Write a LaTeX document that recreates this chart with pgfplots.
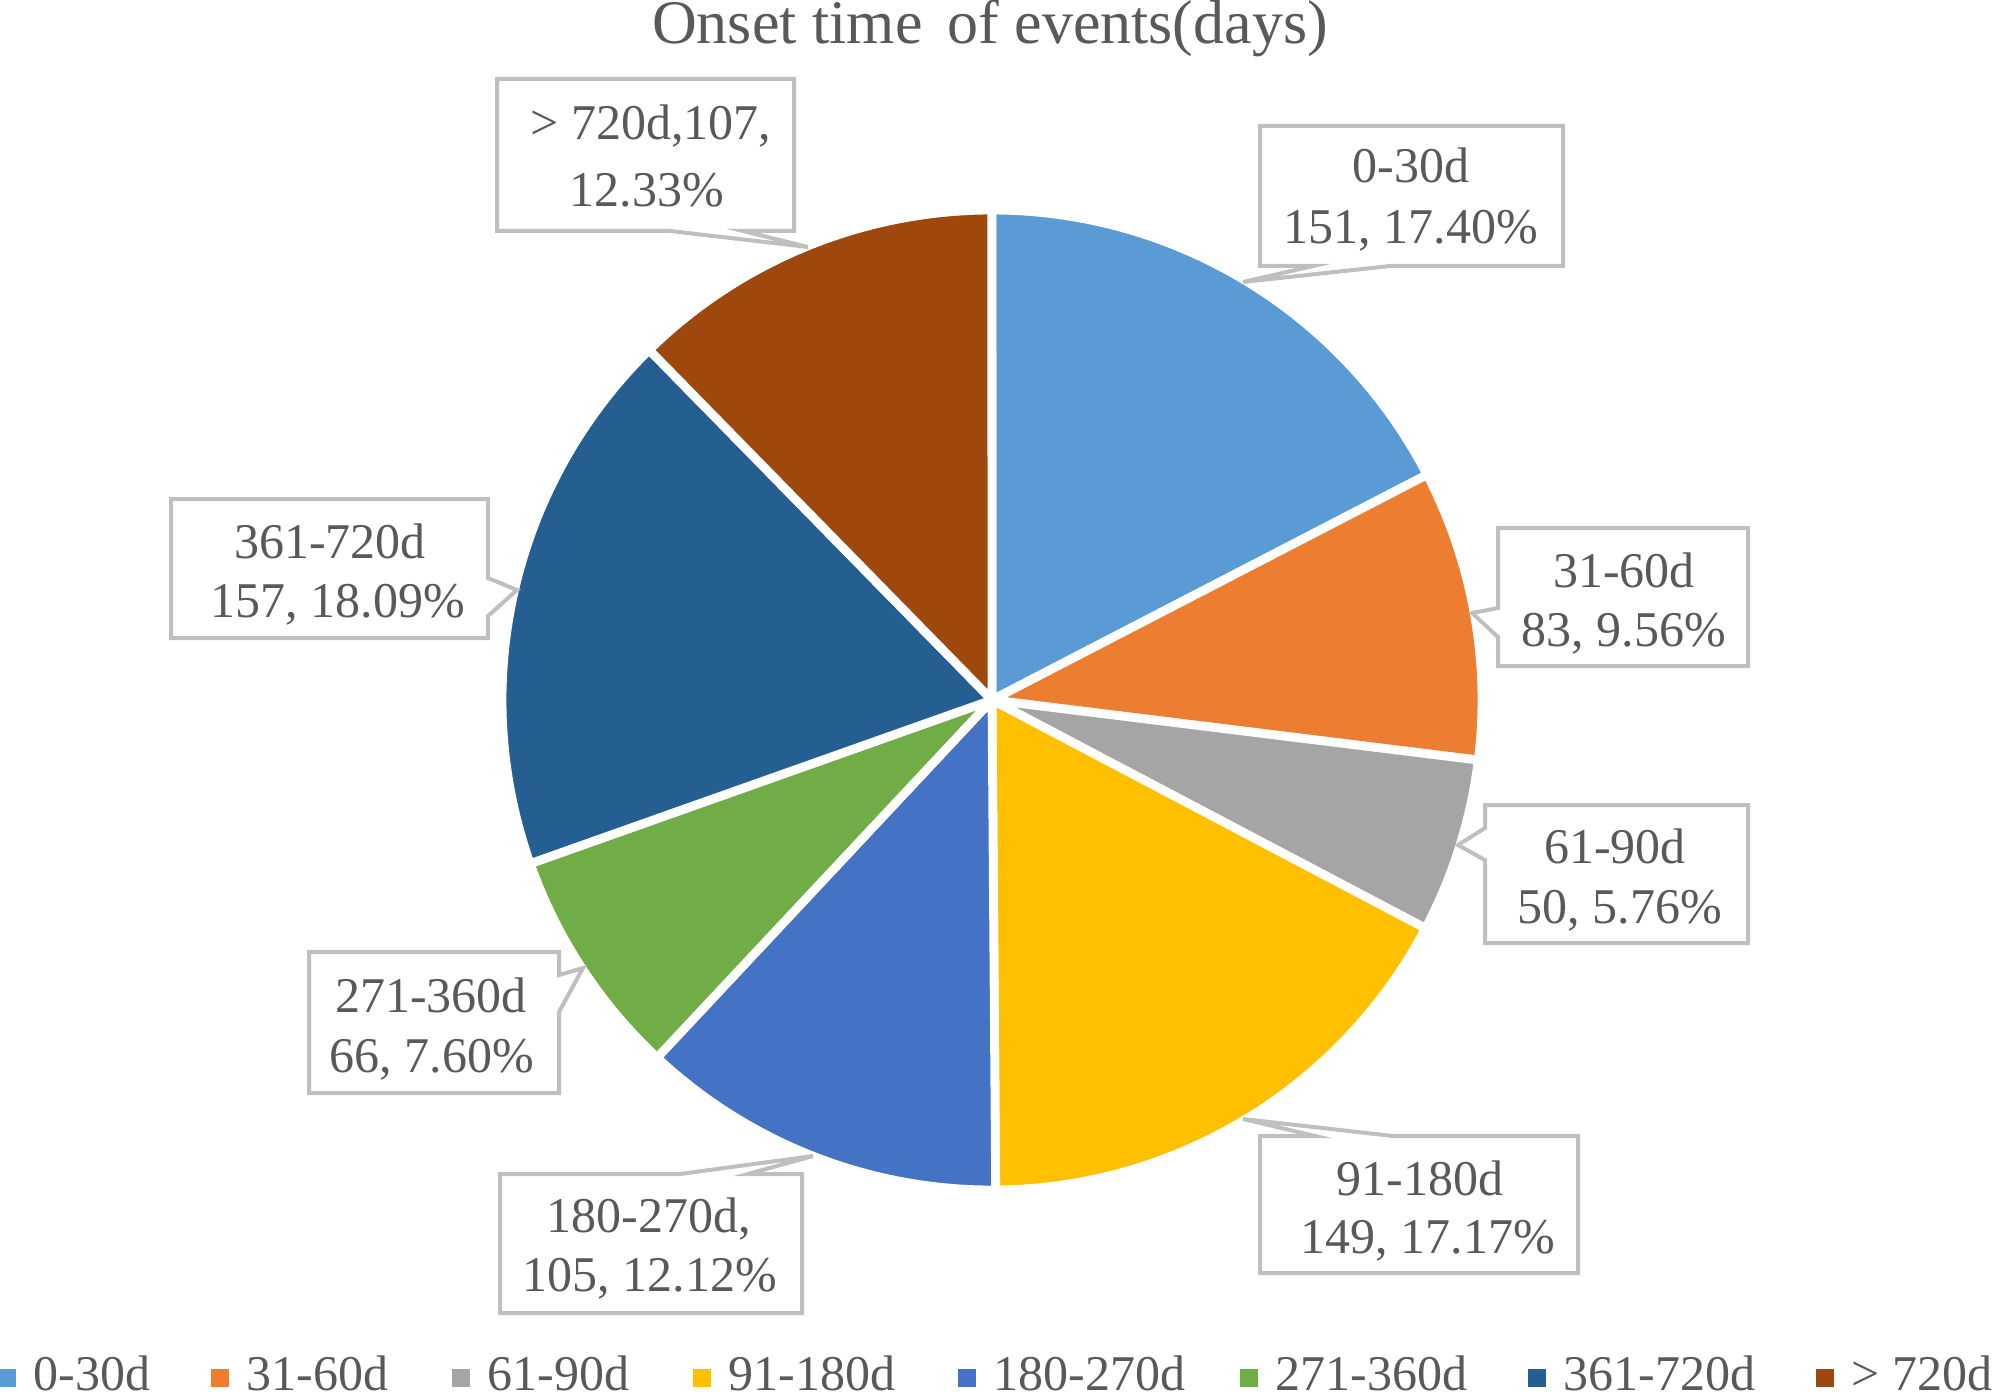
\documentclass[border=0pt]{standalone}
\usepackage{pgfplots}
\pgfplotsset{compat=1.18}
\usepgfplotslibrary{polar}
\usepackage{fontspec}
\setmainfont{Liberation Serif}
\definecolor{cA}{HTML}{5B9BD5}
\definecolor{cB}{HTML}{ED7D31}
\definecolor{cC}{HTML}{A5A5A5}
\definecolor{cD}{HTML}{FFC000}
\definecolor{cE}{HTML}{4472C4}
\definecolor{cF}{HTML}{70AD47}
\definecolor{cG}{HTML}{255E91}
\definecolor{cH}{HTML}{9E480E}
\definecolor{txt}{HTML}{595959}
\definecolor{bord}{HTML}{BFBFBF}
\begin{document}
\begin{tikzpicture}
\useasboundingbox (0,0) rectangle (502pt,348.5pt);
\clip (0,0) rectangle (502pt,348.5pt);
% values: 0-30d 151, 31-60d 83, 61-90d 50, 91-180d 149, 180-270d 105, 271-360d 66, 361-720d 157, >720d 107
\pgfmathsetmacro\tot{151+83+50+149+105+66+157+107}
\pgfmathsetmacro\bA{90-151/\tot*360}
\pgfmathsetmacro\bB{\bA-83/\tot*360}
\pgfmathsetmacro\bC{\bB-50/\tot*360}
\pgfmathsetmacro\bD{\bC-149/\tot*360}
\pgfmathsetmacro\bE{\bD-105/\tot*360}
\pgfmathsetmacro\bF{\bE-66/\tot*360}
\pgfmathsetmacro\bG{\bF-157/\tot*360}
\pgfmathsetmacro\bH{\bG-107/\tot*360}
\begin{polaraxis}[at={(248pt,173.5pt)}, anchor=origin, hide axis,
  scale only axis, width=245pt, height=245pt, ymin=0, ymax=1, clip=false]
\pgfplotsset{slice/.style={draw=white, line width=2.2pt, line join=round, samples=90}}
\addplot[slice, fill=cA, domain=\bA:90] {1} -- (axis cs:0,0) -- cycle;
\addplot[slice, fill=cB, domain=\bB:\bA] {1} -- (axis cs:0,0) -- cycle;
\addplot[slice, fill=cC, domain=\bC:\bB] {1} -- (axis cs:0,0) -- cycle;
\addplot[slice, fill=cD, domain=\bD:\bC] {1} -- (axis cs:0,0) -- cycle;
\addplot[slice, fill=cE, domain=\bE:\bD] {1} -- (axis cs:0,0) -- cycle;
\addplot[slice, fill=cF, domain=\bF:\bE] {1} -- (axis cs:0,0) -- cycle;
\addplot[slice, fill=cG, domain=\bG:\bF] {1} -- (axis cs:0,0) -- cycle;
\addplot[slice, fill=cH, domain=\bH:\bG] {1} -- (axis cs:0,0) -- cycle;
\end{polaraxis}
\begin{scope}[x=0.25pt,y=-0.25pt,yshift=348.5pt,
  callout/.style={fill=white, draw=bord, line width=1pt, line join=miter},
  lab/.style={text=txt, font=\fontsize{12.5pt}{15pt}\selectfont, inner sep=0pt, anchor=base}]
% title
\node[anchor=base, inner sep=0pt, text=txt, font=\fontsize{15.5pt}{18pt}\selectfont] at (990,44) {Onset time\hspace{0.15em} of events(days)};
% 0-30d
\path[callout] (1260,126) -- (1563,126) -- (1563,266) -- (1390,266) -- (1243,282) -- (1313,266) -- (1260,266) -- cycle;
\node[lab] at (1411,183) {0-30d};
\node[lab] at (1411,244) {151, 17.40\%};
% 31-60d
\path[callout] (1498,528) -- (1748,528) -- (1748,666) -- (1498,666) -- (1498,637) -- (1472,613) -- (1498,608) -- cycle;
\node[lab] at (1624,587) {31-60d};
\node[lab] at (1624,646) {83, 9.56\%};
% 61-90d
\path[callout] (1485,805) -- (1748,805) -- (1748,943) -- (1485,943) -- (1485,860) -- (1458,845) -- (1485,828) -- cycle;
\node[lab] at (1615,863) {61-90d};
\node[lab] at (1620,923) {50, 5.76\%};
% 91-180d
\path[callout] (1260,1136) -- (1315,1136) -- (1243,1119) -- (1393,1136) -- (1578,1136) -- (1578,1273) -- (1260,1273) -- cycle;
\node[lab] at (1420,1195) {91-180d};
\node[lab] at (1428,1253) {149, 17.17\%};
% 180-270d
\path[callout] (500,1174) -- (680,1174) -- (813,1156) -- (748,1174) -- (802,1174) -- (802,1313) -- (500,1313) -- cycle;
\node[lab] at (649,1232) {180-270d,};
\node[lab] at (650,1291) {105, 12.12\%};
% 271-360d
\path[callout] (309,952) -- (559,952) -- (559,975) -- (583,968) -- (559,1012) -- (559,1093) -- (309,1093) -- cycle;
\node[lab] at (431,1012) {271-360d};
\node[lab] at (432,1072) {66, 7.60\%};
% 361-720d
\path[callout] (171,499) -- (488,499) -- (488,578) -- (517,590) -- (488,616) -- (488,638) -- (171,638) -- cycle;
\node[lab] at (330,558) {361-720d};
\node[lab] at (338,617) {157, 18.09\%};
% >720d
\path[callout] (497,79) -- (794,79) -- (794,231) -- (743,231) -- (808,247) -- (670,231) -- (497,231) -- cycle;
\node[lab] at (651,140) {> 720d,107,};
\node[lab] at (647,207) {12.33\%};
% legend
\foreach \xx/\cc/\tt in {-2/cA/0-30d, 211/cB/31-60d, 452/cC/61-90d, 693/cD/91-180d, 958/cE/180-270d, 1240/cF/271-360d, 1528/cG/361-720d, 1816/cH/> 720d}{
  \fill[\cc] (\xx,1369) rectangle ++(18,18);
  \node[lab, anchor=base west] at (\xx+35,1390) {\tt};
}
\end{scope}
\end{tikzpicture}
\end{document}
